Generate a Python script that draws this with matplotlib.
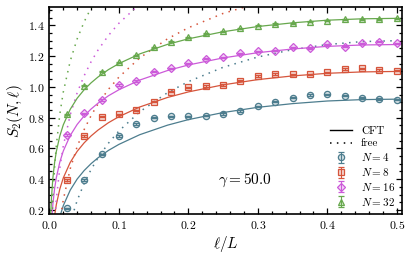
import matplotlib
matplotlib.use("Agg")
import matplotlib.pyplot as plt
from matplotlib.ticker import MultipleLocator
from matplotlib.lines import Line2D

plt.rcParams['font.family'] = 'serif'
plt.rcParams['font.serif'] = ['cmr10']
plt.rcParams['mathtext.fontset'] = 'cm'
plt.rcParams['axes.formatter.use_mathtext'] = True

# subsystem fraction l/L of the data points
ell = [0.025, 0.05, 0.075, 0.1, 0.125, 0.15, 0.175, 0.2, 0.225, 0.25,
       0.275, 0.3, 0.325, 0.35, 0.375, 0.4, 0.425, 0.45, 0.475, 0.5]

s2_n4 = [0.211, 0.395, 0.562, 0.68, 0.758, 0.80, 0.808, 0.808, 0.812, 0.823,
         0.843, 0.873, 0.903, 0.929, 0.947, 0.951, 0.942, 0.929, 0.921, 0.916]
s2_n8 = [0.395, 0.68, 0.806, 0.822, 0.847, 0.903, 0.968, 0.997, 1.005, 1.012,
         1.04, 1.07, 1.083, 1.081, 1.081, 1.094, 1.116, 1.12, 1.109, 1.105]
s2_n16 = [0.687, 0.828, 0.914, 1.012, 1.038, 1.098, 1.12, 1.153, 1.182, 1.191,
          1.217, 1.232, 1.234, 1.256, 1.25, 1.276, 1.26, 1.282, 1.293, 1.282]
s2_n32 = [0.821, 1.007, 1.098, 1.159, 1.206, 1.257, 1.293, 1.321, 1.347, 1.362,
          1.38, 1.397, 1.408, 1.412, 1.423, 1.43, 1.438, 1.44, 1.438, 1.445]
s2_err = 0.004

# theory curves sampled along l/L
x_th = [0.001, 0.002, 0.003, 0.005, 0.0075, 0.01, 0.015, 0.02, 0.03, 0.04, 0.05, 0.06,
        0.07, 0.085, 0.1, 0.13, 0.17, 0.2, 0.25, 0.3, 0.35, 0.4, 0.45, 0.5]

cft_n4 = [-0.521, -0.348, -0.246, -0.119, -0.017, 0.055, 0.156, 0.228, 0.329, 0.401, 0.456, 0.501,
          0.539, 0.587, 0.626, 0.689, 0.751, 0.787, 0.833, 0.867, 0.891, 0.908, 0.917, 0.92]
cft_n8 = [-0.341, -0.168, -0.066, 0.062, 0.163, 0.235, 0.336, 0.408, 0.509, 0.581, 0.636, 0.681,
          0.719, 0.767, 0.806, 0.869, 0.931, 0.967, 1.013, 1.047, 1.071, 1.088, 1.097, 1.10]
cft_n16 = [-0.166, 0.008, 0.109, 0.237, 0.338, 0.41, 0.511, 0.583, 0.684, 0.756, 0.811, 0.856,
           0.894, 0.942, 0.981, 1.044, 1.106, 1.142, 1.188, 1.222, 1.246, 1.263, 1.272, 1.275]
cft_n32 = [0.004, 0.178, 0.279, 0.407, 0.508, 0.58, 0.681, 0.753, 0.854, 0.926, 0.981, 1.026,
           1.064, 1.112, 1.151, 1.214, 1.276, 1.312, 1.358, 1.392, 1.416, 1.433, 1.442, 1.445]

free_n4 = [-1.582, -1.235, -1.032, -0.777, -0.574, -0.43, -0.228, -0.084, 0.118, 0.262, 0.372, 0.463,
           0.539, 0.634, 0.713, 0.838, 0.962, 1.034, 1.127, 1.194, 1.242, 1.275, 1.294, 1.30]
free_n8 = [-1.232, -0.885, -0.682, -0.427, -0.224, -0.08, 0.122, 0.266, 0.468, 0.612, 0.722, 0.813,
           0.889, 0.984, 1.063, 1.188, 1.312, 1.384, 1.477, 1.544, 1.592, 1.625, 1.644, 1.65]
free_n16 = [-0.882, -0.535, -0.332, -0.077, 0.126, 0.27, 0.472, 0.616, 0.818, 0.962, 1.072, 1.163,
            1.239, 1.334, 1.413, 1.538, 1.662, 1.734, 1.827, 1.894, 1.942, 1.975, 1.994, 2.0]
free_n32 = [-0.532, -0.185, 0.018, 0.273, 0.476, 0.62, 0.822, 0.966, 1.168, 1.312, 1.422, 1.513,
            1.589, 1.684, 1.763, 1.888, 2.012, 2.084, 2.177, 2.244, 2.292, 2.325, 2.344, 2.35]

labels = ['$N=4$', '$N=8$', '$N=16$', '$N=32$']
colors = ['#4d7d8e', '#d6553c', '#cc5ad9', '#67a84d']
markers = ['o', 's', 'D', '^']
msizes = [4.5, 4.5, 3.8, 4.8]

data = [s2_n4, s2_n8, s2_n16, s2_n32]
cft = [cft_n4, cft_n8, cft_n16, cft_n32]
free = [free_n4, free_n8, free_n16, free_n32]

dotted = (0, (1, 3.5))

fig = plt.figure(figsize=(4.15, 2.56), dpi=100)
ax = fig.add_axes([0.119, 0.163, 0.849, 0.808])

handles = []
for i in range(4):
    ax.plot(x_th, cft[i], '-', color=colors[i], lw=0.9)
    ax.plot(x_th, free[i], ls=dotted, color=colors[i], lw=1.1)
    h = ax.errorbar(ell, data[i], yerr=s2_err, fmt=markers[i], color=colors[i],
                    ms=msizes[i], mfc=colors[i] + '40', mec=colors[i], mew=0.9,
                    capsize=2.2, elinewidth=0.8, capthick=0.8, label=labels[i])
    handles.append(h)

cft_h = Line2D([], [], color='black', lw=1.0, ls='-', label='CFT')
free_h = Line2D([], [], color='black', lw=1.1, ls=dotted, label='free')
ax.legend(handles=[cft_h, free_h] + handles, loc='lower right', frameon=False,
          fontsize=8, handlelength=2.0, labelspacing=0.25, borderaxespad=0.2,
          handletextpad=0.8)

ax.text(0.281, 0.395, r'$\gamma = 50.0$', fontsize=11, ha='center', va='center')

ax.set_xlim(0, 0.507)
ax.set_ylim(0.172, 1.516)
ax.xaxis.set_major_locator(MultipleLocator(0.1))
ax.xaxis.set_minor_locator(MultipleLocator(0.02))
ax.yaxis.set_major_locator(MultipleLocator(0.2))
ax.yaxis.set_minor_locator(MultipleLocator(0.05))
ax.tick_params(which='both', direction='in', top=True, right=True, labelsize=8.5, width=0.9)
ax.tick_params(which='major', length=4)
ax.tick_params(which='minor', length=2)
for sp in ax.spines.values():
    sp.set_linewidth(1.2)

ax.set_xlabel(r'$\ell/L$', fontsize=11, labelpad=2)
ax.set_ylabel(r'$S_2(N,\ell)$', fontsize=11, labelpad=2)

fig.savefig('out.png', dpi=100)
